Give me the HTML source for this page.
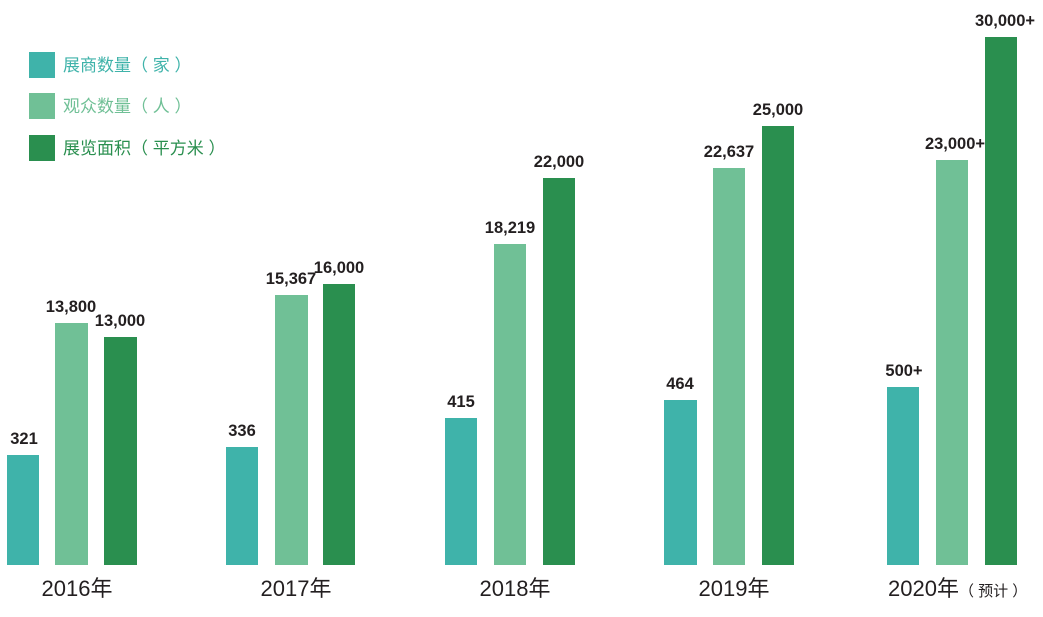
<!DOCTYPE html>
<html><head><meta charset="utf-8"><style>
body{margin:0;width:1043px;height:612px;background:#fff;overflow:hidden;font-family:"Liberation Sans","Noto Sans CJK SC",sans-serif;}
</style></head><body>
<svg width="1043" height="612" xmlns="http://www.w3.org/2000/svg" font-family="Liberation Sans, Noto Sans CJK SC, sans-serif">
<g>
<rect x="29" y="52" width="26" height="26" fill="#3fb3aa"/>
<rect x="29" y="93" width="26" height="26" fill="#70c096"/>
<rect x="29" y="135" width="26" height="26" fill="#2a8f4f"/>
<text x="63" y="71" font-size="17" fill="#3fb3aa">展商数量（ 家 ）</text>
<text x="63" y="112" font-size="17" fill="#70c096">观众数量（ 人 ）</text>
<text x="63" y="154" font-size="17" fill="#2a8f4f">展览面积（ 平方米 ）</text>
</g>
<g fill="#3fb3aa">
<rect x="7" y="455" width="32" height="110"/>
<rect x="226" y="447" width="32" height="118"/>
<rect x="445" y="418" width="32" height="147"/>
<rect x="664" y="400" width="33" height="165"/>
<rect x="887" y="387" width="32" height="178"/>
</g>
<g fill="#70c096">
<rect x="55" y="323" width="33" height="242"/>
<rect x="275" y="295" width="33" height="270"/>
<rect x="494" y="244" width="32" height="321"/>
<rect x="713" y="168" width="32" height="397"/>
<rect x="936" y="160" width="32" height="405"/>
</g>
<g fill="#2a8f4f">
<rect x="104" y="337" width="33" height="228"/>
<rect x="323" y="284" width="32" height="281"/>
<rect x="543" y="178" width="32" height="387"/>
<rect x="762" y="126" width="32" height="439"/>
<rect x="985" y="37" width="32" height="528"/>
</g>
<g font-size="16.5" font-weight="bold" fill="#231f20" text-anchor="middle">
<text x="24" y="444">321</text>
<text x="242" y="436">336</text>
<text x="461" y="407">415</text>
<text x="680" y="389">464</text>
<text x="904" y="376">500+</text>
<text x="71" y="312">13,800</text>
<text x="291" y="284">15,367</text>
<text x="510" y="233">18,219</text>
<text x="729" y="157">22,637</text>
<text x="955" y="149">23,000+</text>
<text x="120" y="326">13,000</text>
<text x="339" y="273">16,000</text>
<text x="559" y="167">22,000</text>
<text x="778" y="115">25,000</text>
<text x="1005" y="26">30,000+</text>
</g>
<g font-size="22" fill="#231f20" text-anchor="middle">
<text x="77" y="596">2016年</text>
<text x="296" y="596">2017年</text>
<text x="515" y="596">2018年</text>
<text x="734" y="596">2019年</text>
<text x="888" y="596" text-anchor="start">2020年<tspan font-size="15">（ 预计 ）</tspan></text>
</g>
</svg>
</body></html>
